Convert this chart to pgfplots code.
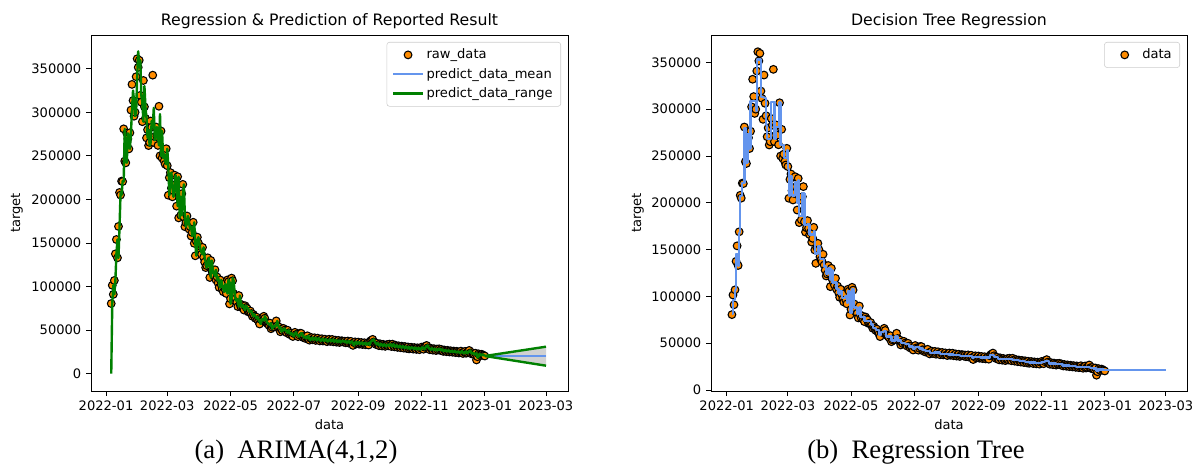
\documentclass[border=0pt]{standalone}
\usepackage{pgfplots}
\pgfplotsset{compat=1.18}
\usepackage{pgfplotstable}
\usepackage{fontspec}
\setmainfont{DejaVu Sans}
\newfontfamily\capfont{Liberation Serif}

\definecolor{mplorange}{HTML}{FF8C00}
\definecolor{mplgreen}{HTML}{008000}
\definecolor{cblue}{HTML}{6495ED}
\definecolor{legframe}{HTML}{CCCCCC}

\newcommand{\ticksize}{\fontsize{9.8}{11}\selectfont}
\newcommand{\titlesize}{\fontsize{11.8}{13}\selectfont}

% daily reported counts (day 0 = 2022-01-01) and the ARIMA in-sample fit
\pgfplotstableread{
day raw arima
5 80500 0
6 101500 80500
7 91000 101500
8 107000 91000
9 137500 107000
10 154000 137500
11 133000 154000
12 169000 133000
13 208000 169000
14 205000 208000
15 221000 205000
16 220500 221000
17 281000 220500
18 244000 281000
19 242000 244000
20 276000 242000
21 269500 276000
22 258000 269500
23 276500 258000
24 302500 276500
25 332000 302500
26 313500 325000
27 295500 313500
28 300000 295500
29 340800 300000
30 361400 340800
31 351600 370000
32 359700 351600
33 319400 359700
34 311600 319400
35 289200 311600
36 336500 289200
37 306300 330000
38 293000 306300
39 270600 293000
40 280000 270600
41 261800 280000
42 265300 261800
43 290000 265300
44 283000 290000
45 342600 283000
46 265300 305000
47 272000 268000
48 283100 272000
49 272400 283100
50 262000 272400
51 306900 262000
52 250000 298000
53 278500 250000
54 247500 278500
55 252000 247500
56 244000 252000
57 240400 244000
58 258200 240400
59 238700 258200
60 204800 238700
61 225000 204800
62 230800 225000
63 213000 230800
64 203000 213000
65 210000 203000
66 227900 210000
67 217200 227900
68 192300 217200
69 226100 192300
70 178800 226100
71 203100 178800
72 181800 203100
73 206500 181800
74 217300 206500
75 179800 217300
76 168700 179800
77 173300 168700
78 181000 173300
79 172800 181000
80 166000 172800
81 168700 166000
82 158000 168700
83 162000 158000
84 173800 162000
85 149600 173800
86 135300 149600
87 152000 135300
88 156700 152000
89 150000 156700
90 142400 150000
91 139000 142400
92 137000 139000
93 145000 137000
94 133500 145000
95 128000 133500
96 121800 128000
97 124000 121800
98 133000 124000
99 125000 133000
100 110400 125000
101 130000 110400
102 118000 130000
103 115000 118000
104 112000 115000
105 119300 112000
106 107600 119300
107 111000 107600
108 104000 111000
109 99000 104000
110 107600 99000
111 102000 107600
112 97000 102000
113 94000 97000
114 103000 94000
115 96000 103000
116 92000 96000
117 107600 92000
118 105600 107600
119 80100 105600
120 86000 80100
121 109700 86000
122 106700 109700
123 92000 106700
124 84000 92000
125 86000 84000
126 82000 86000
127 77000 82000
128 89700 77000
129 80000 89700
130 76600 80000
131 79000 76600
132 75000 79000
133 73000 75000
134 78000 73000
135 76000 78000
136 74800 76000
137 71000 74800
138 71100 71000
139 72000 71100
140 69000 72000
141 65900 69000
142 68000 65900
143 66000 68000
144 63500 66000
145 65000 63500
146 62000 65000
147 60000 62000
148 57000 60000
149 62300 57000
150 63000 62300
151 61000 63000
152 65900 61000
153 63600 65900
154 59000 63600
155 58000 59000
156 57000 58000
157 55500 57000
158 58000 55500
159 51600 58000
160 53400 51600
161 55000 53400
162 54000 55000
163 56000 54000
164 60600 56000
165 55000 60600
166 52500 55000
167 53400 52500
168 48100 53400
169 51000 48100
170 49500 51000
171 52000 49500
172 50000 52000
173 48500 50000
174 47000 48500
175 49900 47000
176 47000 49900
177 45000 47000
178 46500 45000
179 44500 46500
180 42700 44500
181 46000 42700
182 47500 46000
183 45000 47500
184 44000 45000
185 42500 44000
186 44500 42500
187 46500 44500
188 46300 46500
189 43000 46300
190 41500 43000
191 42500 41500
192 40500 42500
193 41800 40500
194 43500 41800
195 39800 43500
196 38500 39800
197 40600 38500
198 41500 40600
199 39000 41500
200 40200 39000
201 41200 40200
202 38200 41200
203 39500 38200
204 40800 39500
205 38800 40800
206 37600 38800
207 39400 37600
208 40100 39400
209 37500 40100
210 38600 37500
211 39600 38600
212 37400 39600
213 36800 37400
214 38900 36800
215 39500 38900
216 37100 39500
217 38000 37100
218 39300 38000
219 36600 39300
220 37700 36600
221 38500 37700
222 36200 38500
223 37400 36200
224 38200 37400
225 35800 38200
226 36900 35800
227 37800 36900
228 37400 37800
229 36200 37400
230 37300 36200
231 35500 37300
232 36600 35500
233 37500 36600
234 35100 37500
235 36200 35100
236 37100 36200
237 34600 37100
238 32500 34600
239 35600 32500
240 36500 35600
241 34200 36500
242 35300 34200
243 36300 35300
244 33900 36300
245 34900 33900
246 35800 34900
247 33500 35800
248 34600 33500
249 35500 34600
250 33200 35500
251 34300 33200
252 35200 34300
253 32900 35200
254 36500 32900
255 37800 36500
256 38500 37800
257 39400 38500
258 36500 39400
259 34800 36500
260 33600 34800
261 35000 33600
262 33000 35000
263 32200 33000
264 34300 32200
265 33100 34300
266 31800 33100
267 33700 31800
268 32600 33700
269 31400 32600
270 32800 31400
271 33500 32800
272 32000 33500
273 33900 32000
274 32400 33900
275 31200 32400
276 33900 31200
277 32100 33900
278 30800 32100
279 32600 30800
280 31400 32600
281 30200 31400
282 32000 30200
283 31000 32000
284 29800 31000
285 31600 29800
286 30600 31600
287 29300 30600
288 31200 29300
289 30100 31200
290 28900 30100
291 30700 28900
292 28500 30700
293 29600 28500
294 30400 29600
295 29200 30400
296 28200 29200
297 30000 28200
298 29000 30000
299 27900 29000
300 29700 27900
301 28600 29700
302 27600 28600
303 29400 27600
304 30500 29400
305 29300 30500
306 28100 29300
307 30300 28100
308 31800 30300
309 32400 31800
310 29800 32400
311 28400 29800
312 27500 28400
313 29200 27500
314 28100 29200
315 27000 28100
316 28700 27000
317 27700 28700
318 26600 27700
319 28300 26600
320 27300 28300
321 28500 27300
322 26800 28500
323 27900 26800
324 26400 27900
325 25600 26400
326 27200 25600
327 26200 27200
328 25300 26200
329 26800 25300
330 25800 26800
331 24900 25800
332 26400 24900
333 25500 26400
334 24600 25500
335 26000 24600
336 25100 26000
337 24200 25100
338 25700 24200
339 24800 25700
340 23800 24800
341 24900 23800
342 25900 24900
343 24000 25900
344 23200 24000
345 24800 23200
346 25600 24800
347 23500 25600
348 24200 23500
349 25800 24200
350 26700 25800
351 23800 26700
352 22900 23800
353 24100 22900
354 22600 24100
355 21800 22600
356 23500 21800
357 15800 23500
358 19500 18500
359 22800 19500
360 21600 22800
361 20800 21600
362 22300 20800
363 21400 22300
364 21000 21400
365 20300 20300
}\rawdata

% decision tree prediction: value held from each day until the next row
\pgfplotstableread{
day tree
5 81000
6 96000
8 107000
9 145000
11 133000
12 168000
13 207000
15 221000
17 280000
18 243000
20 273000
22 258000
23 309000
28 298000
29 353000
33 313000
36 312000
38 283000
39 268000
43 308000
46 268000
47 281000
51 307000
52 262000
55 248000
58 256000
59 236000
60 207000
61 228000
63 208000
66 222000
68 200000
69 224000
70 186000
73 210000
75 176000
78 177000
80 166000
84 170000
85 146000
88 154000
90 140000
94 132000
96 124000
98 130000
100 118000
101 128000
102 115000
106 108000
108 103000
110 106000
111 98000
114 100000
116 93000
117 106000
119 82000
121 108000
123 88000
126 81000
128 88000
129 78000
133 74000
139 70000
141 66000
144 64000
147 59000
149 62000
152 63000
154 57000
159 53000
163 57000
165 53000
168 50000
172 49000
176 46500
180 44000
182 46000
186 44500
189 42500
192 41500
196 39500
200 40000
206 38600
210 38300
214 38000
219 37300
225 36500
231 36000
237 34500
239 35300
245 34500
254 37200
258 35000
262 33300
270 33000
276 32300
282 31000
288 30000
292 29400
298 28800
304 29600
307 31000
311 28200
318 27500
324 26300
331 25500
337 24700
341 24800
347 24500
351 23700
354 22800
357 20500
359 21800
364 21400
424 21400
}\treedata

\pgfplotsset{
  mplaxis/.style={
    anchor=south west, scale only axis,
    height=267pt,
    clip marker paths=true,
    axis line style={black, line width=0.6pt},
    tick align=outside, major tick length=3.75pt,
    tick style={black, line width=0.6pt},
    tick label style={font=\ticksize},
    scaled y ticks=false, scaled x ticks=false,
    xtick={0,59,120,181,243,304,365,424},
    xticklabels={2022-01,2022-03,2022-05,2022-07,2022-09,2022-11,2023-01,2023-03},
    ytick={0,50000,100000,150000,200000,250000,300000,350000},
    yticklabels={0,50000,100000,150000,200000,250000,300000,350000},
    xtick pos=bottom, ytick pos=left,
    legend cell align=left,
    legend style={at={(1,1)}, anchor=north east, xshift=-5.25pt, yshift=-5.25pt,
      draw=legframe, rounded corners=2pt, font=\ticksize,
      row sep=1.6pt, inner xsep=4pt, inner ysep=3pt},
    legend image code/.code={\draw[##1] (0pt,0pt) -- (22pt,0pt);},
  },
  dots/.style={only marks, mark=*, mark size=2.9pt,
    mark options={fill=mplorange, draw=black, line width=0.8pt}},
  fitline/.style={line width=1.8pt, line join=round},
}

\begin{document}
\begin{tikzpicture}
\useasboundingbox (0,0) rectangle (898.5pt,350.25pt);

% ARIMA(4,1,2)
\begin{axis}[mplaxis,
  at={(68.25pt,57pt)}, width=357.75pt,
  xmin=-14.5, xmax=445.2, ymin=-19850, ymax=388700]
  \addlegendimage{dots, legend image code/.code={\path (0pt,0pt) (22pt,0pt); \draw[##1] plot coordinates {(11pt,0pt)};}}
  \addlegendentry{raw\_data}
  \addlegendimage{cblue, fitline}
  \addlegendentry{predict\_data\_mean}
  \addlegendimage{mplgreen, fitline}
  \addlegendentry{predict\_data\_range}

  \addplot[dots, forget plot] table[x=day, y=raw] {\rawdata};
  % forecast band
  \addplot[fill=black!18, draw=none, forget plot]
    coordinates {(365,20300) (424,31000) (424,9200) (365,20300)};
  \addplot[cblue, fitline, forget plot]
    coordinates {(365,20300) (424,20300)};
  \addplot[mplgreen, fitline, forget plot] table[x=day, y=arima] {\rawdata};
  \addplot[mplgreen, fitline, forget plot]
    coordinates {(365,20300) (424,31000)};
  \addplot[mplgreen, fitline, forget plot]
    coordinates {(365,20300) (424,9200)};
\end{axis}

% Decision tree
\begin{axis}[mplaxis,
  at={(533.25pt,57pt)}, width=357pt,
  xmin=-15.2, xmax=444.4, ymin=-1100, ymax=379300]
  \addlegendimage{dots, legend image code/.code={\path (0pt,0pt) (22pt,0pt); \draw[##1] plot coordinates {(11pt,0pt)};}}
  \addlegendentry{data}
  \addplot[dots, forget plot] table[x=day, y=raw] {\rawdata};
  \addplot[cblue, fitline, const plot, forget plot] table[x=day, y=tree] {\treedata};
\end{axis}

% titles and axis labels
\node[font=\titlesize] at (247.1pt,334.5pt) {Regression \& Prediction of Reported Result};
\node[font=\titlesize] at (711.75pt,334.5pt) {Decision Tree Regression};
\node[font=\ticksize] at (247.1pt,31.5pt) {data};
\node[font=\ticksize] at (711.75pt,31.5pt) {data};
\node[font=\ticksize, rotate=90] at (12.75pt,190.5pt) {target};
\node[font=\ticksize, rotate=90] at (478.5pt,190.5pt) {target};

% sub-captions
\node[font=\capfont\fontsize{20}{22}\selectfont] at (222pt,11.25pt) {(a)\ \ ARIMA(4,1,2)};
\node[font=\capfont\fontsize{20}{22}\selectfont] at (687pt,11.25pt) {(b)\ \ Regression Tree};
\end{tikzpicture}
\end{document}
